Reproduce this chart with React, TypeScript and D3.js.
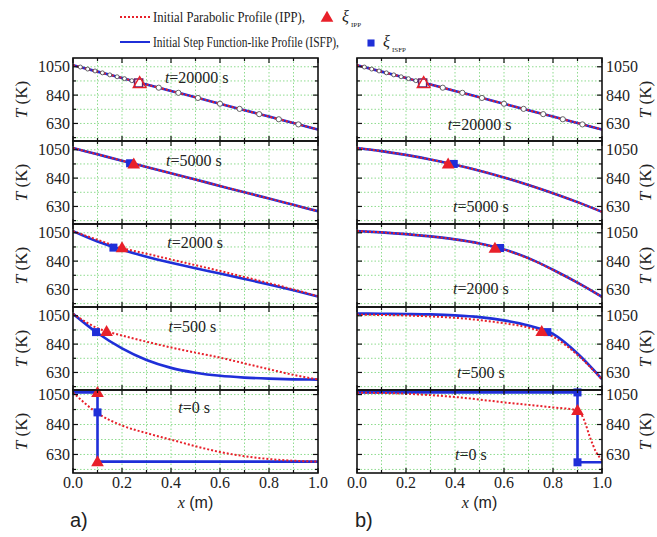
import React from "react";
import * as d3 from "d3";

// shared x grid (m)
const xs = [0, 0.1, 0.2, 0.3, 0.4, 0.5, 0.6, 0.7, 0.8, 0.9, 1.0];

// t = 20000 s (same in a and b)
const ipp20000 = [1062, 1014, 967, 919, 871, 824, 776, 728, 681, 633, 585];
const isfp20000 = [1062, 1014, 967, 919, 871, 824, 776, 728, 681, 633, 585];
const circleX = [0.35, 0.43, 0.51, 0.6, 0.68, 0.76, 0.84, 0.92];
const circleT = [895, 857, 819, 776, 738, 699, 661, 623];
const smallX = [0.03, 0.06, 0.09, 0.12, 0.15, 0.18, 0.21, 0.24];
const smallT = [1048, 1033, 1019, 1005, 990, 976, 962, 947];

// t = 5000 s
const aIpp5000 = [1063, 1016, 969, 923, 876, 829, 782, 735, 689, 642, 595];
const aIsfp5000 = [1063, 1016, 969, 923, 876, 829, 782, 735, 689, 642, 595];
const bIpp5000 = [1063, 1040, 1012, 978, 939, 895, 845, 789, 728, 662, 590];
const bIsfp5000 = [1063, 1040, 1012, 978, 939, 895, 845, 789, 728, 662, 590];

// t = 2000 s
const aIpp2000 = [1062, 998, 937, 895, 852, 810, 767, 722, 677, 630, 580];
const aIsfp2000 = [1062, 985, 925, 873, 828, 787, 748, 708, 667, 624, 578];
const bIpp2000 = [1063, 1053, 1040, 1023, 1001, 970, 925, 860, 775, 680, 575];
const bIsfp2000 = [1063, 1053, 1040, 1023, 1001, 971, 927, 862, 776, 680, 575];

// t = 500 s
const aIpp500 = [1065, 958, 904, 858, 815, 777, 740, 697, 654, 612, 578];
const aIsfp500 = [1065, 922, 808, 722, 664, 628, 605, 592, 584, 579, 577];
const bIpp500 = [1058, 1056, 1052, 1045, 1035, 1018, 995, 962, 895, 760, 578];
const bIsfp500 = [1066, 1065, 1063, 1060, 1053, 1040, 1016, 978, 915, 770, 580];

// t = 0 s
const aIpp0 = [1065, 920, 833, 780, 734, 688, 647, 618, 598, 586, 580];
const aStepX = [0, 0.1, 0.1, 1.0];
const aStepT = [1065, 1065, 580, 580];
const bIppX0 = [0, 0.1, 0.2, 0.3, 0.4, 0.5, 0.6, 0.7, 0.8, 0.9, 0.925, 0.95, 0.975, 1.0];
const bIpp0 = [1063, 1061, 1056, 1046, 1033, 1015, 995, 978, 960, 939, 880, 755, 650, 590];
const bStepX = [0, 0.9, 0.9, 1.0];
const bStepT = [1065, 1065, 575, 575];

const times = ["20000", "5000", "2000", "500", "0"];
const xTickLabels = ["0.0", "0.2", "0.4", "0.6", "0.8", "1.0"];
const yTickLabels = [630, 840, 1050];

const RED = "#e8202a";
const BLUE = "#1f2fd8";
const GRID = "#8fdc8f";
const SERIF = "Liberation Serif";
const SANS = "Liberation Sans";

type Series = { x: number[]; t: number[]; step?: boolean };
type Mark = [number, number];
type Panel = {
  ipp: Series;
  isfp: Series;
  tri: Mark[];
  sq: Mark[];
  open?: boolean;
  label: Mark;
};

const leftPanels: Panel[] = [
  { ipp: { x: xs, t: ipp20000 }, isfp: { x: xs, t: isfp20000 }, tri: [[0.272, 930]], sq: [[0.268, 930]], open: true, label: [0.375, 930] },
  { ipp: { x: xs, t: aIpp5000 }, isfp: { x: xs, t: aIsfp5000 }, tri: [[0.248, 945]], sq: [[0.233, 950]], label: [0.38, 930] },
  { ipp: { x: xs, t: aIpp2000 }, isfp: { x: xs, t: aIsfp2000 }, tri: [[0.2, 940]], sq: [[0.165, 940]], label: [0.385, 937] },
  { ipp: { x: xs, t: aIpp500 }, isfp: { x: xs, t: aIsfp500 }, tri: [[0.137, 935]], sq: [[0.094, 929]], label: [0.39, 930] },
  { ipp: { x: xs, t: aIpp0 }, isfp: { x: aStepX, t: aStepT, step: true }, tri: [[0.1, 1065], [0.1, 580]], sq: [[0.1, 925]], label: [0.43, 921] },
];

const rightPanels: Panel[] = [
  { ipp: { x: xs, t: ipp20000 }, isfp: { x: xs, t: isfp20000 }, tri: [[0.272, 930]], sq: [[0.268, 930]], open: true, label: [0.37, 582] },
  { ipp: { x: xs, t: bIpp5000 }, isfp: { x: xs, t: bIsfp5000 }, tri: [[0.372, 945]], sq: [[0.395, 945]], label: [0.392, 589] },
  { ipp: { x: xs, t: bIpp2000 }, isfp: { x: xs, t: bIsfp2000 }, tri: [[0.563, 937]], sq: [[0.584, 937]], label: [0.392, 596] },
  { ipp: { x: xs, t: bIpp500 }, isfp: { x: xs, t: bIsfp500 }, tri: [[0.754, 935]], sq: [[0.777, 929]], label: [0.408, 589] },
  { ipp: { x: bIppX0, t: bIpp0 }, isfp: { x: bStepX, t: bStepT, step: true }, tri: [[0.9, 939]], sq: [[0.9, 1065], [0.9, 575]], label: [0.4, 591] },
];

const top0 = 58;
const ph = 83;

function PanelView({ p, i, x0, x1, side, id }: { p: Panel; i: number; x0: number; x1: number; side: string; id: string }) {
  const top = top0 + i * ph;
  const bottom = top + ph;
  const x = d3.scaleLinear().domain([0, 1]).range([x0, x1]);
  const y = d3.scaleLinear().domain(i === 4 ? [500, 1082] : [500, 1115]).range([bottom, top]);
  const mk = (s: Series) =>
    d3
      .line<number>()
      .x((_, k) => x(s.x[k]))
      .y((d) => y(d))
      .curve(s.step ? d3.curveLinear : d3.curveMonotoneX)(s.t) || "";
  const xt = x.ticks(10);
  const yt = d3.range(525, 1051, 105);
  const tri = d3.symbol(d3.symbolTriangle, 70)() || "";
  const sq = d3.symbol(d3.symbolSquare, 64)() || "";
  return (
    <g>
      <clipPath id={id}>
        <rect x={x0} y={top} width={x1 - x0} height={ph} />
      </clipPath>
      <g stroke={GRID} strokeWidth={1} strokeDasharray="1.5,2">
        {xt.slice(1, -1).map((v) => (
          <line key={"gx" + v} x1={x(v)} x2={x(v)} y1={top} y2={bottom} />
        ))}
        {yt.map((v) => (
          <line key={"gy" + v} x1={x0} x2={x1} y1={y(v)} y2={y(v)} />
        ))}
      </g>
      <g clipPath={`url(#${id})`} fill="none">
        <path d={mk(p.isfp)} stroke={BLUE} strokeWidth={2.6} />
        <path d={mk(p.ipp)} stroke={RED} strokeWidth={2} strokeDasharray="2,2" />
        {p.open &&
          smallX.map((v, k) => (
            <circle key={"s" + k} cx={x(v)} cy={y(smallT[k])} r={2} fill="#fff" stroke="#444" strokeWidth={0.8} />
          ))}
        {p.open &&
          circleX.map((v, k) => (
            <circle key={"c" + k} cx={x(v)} cy={y(circleT[k])} r={2.6} fill="#fff" stroke="#555" strokeWidth={0.9} />
          ))}
      </g>
      {p.sq.map((m, k) => (
        <path key={"q" + k} d={sq} transform={`translate(${x(m[0])},${y(m[1])})`}
          fill={p.open ? "#fff" : BLUE} stroke={p.open ? "#6a1f6a" : BLUE} strokeWidth={p.open ? 1.6 : 0} />
      ))}
      {p.tri.map((m, k) => (
        <path key={"t" + k} d={tri} transform={`translate(${x(m[0])},${y(m[1]) + 1})`}
          fill={p.open ? "none" : RED} stroke={p.open ? RED : "none"} strokeWidth={1.4} />
      ))}
      <rect x={x0} y={top} width={x1 - x0} height={ph} fill="none" stroke="#111" strokeWidth={1.6} />
      <g stroke="#111" strokeWidth={1.2}>
        {xt.map((v, k) => {
          const len = k % 2 === 0 ? 5 : 3;
          return (
            <g key={"tx" + v}>
              <line x1={x(v)} x2={x(v)} y1={bottom} y2={bottom - len} />
              <line x1={x(v)} x2={x(v)} y1={top} y2={top + len} />
            </g>
          );
        })}
        {yt.map((v) => {
          const len = yTickLabels.includes(v) ? 5 : 3;
          return (
            <g key={"ty" + v}>
              <line x1={x0} x2={x0 + len} y1={y(v)} y2={y(v)} />
              <line x1={x1} x2={x1 - len} y1={y(v)} y2={y(v)} />
            </g>
          );
        })}
      </g>
      <g fontFamily={SERIF} fontSize={16} fill="#222">
        {yTickLabels.map((v) => (
          <text key={"yl" + v} x={side === "left" ? x0 - 3 : x1 + 4} y={y(v)} dy="0.35em"
            textAnchor={side === "left" ? "end" : "start"}>
            {v}
          </text>
        ))}
      </g>
      <text x={x(p.label[0])} y={y(p.label[1])} fontFamily={SERIF} fontSize={16} fill="#222">
        <tspan fontStyle="italic">t</tspan>={times[i]} s
      </text>
      <text transform={`translate(${side === "left" ? 27 : 651},${top + ph / 2}) rotate(-90)`}
        textAnchor="middle" fontFamily={SERIF} fontSize={17} fill="#222">
        <tspan fontStyle="italic">T</tspan> (K)
      </text>
      {i === 4 && (
        <g>
          <g fontFamily={SERIF} fontSize={16} fill="#222">
            {xTickLabels.map((s, k) => (
              <text key={"xl" + k} x={x(k * 0.2)} y={488} textAnchor="middle">{s}</text>
            ))}
          </g>
          <text x={x(0.5)} y={508} textAnchor="middle" fontSize={16} fill="#222">
            <tspan fontFamily={SERIF} fontStyle="italic">x</tspan>
            <tspan fontFamily={SANS}> (m)</tspan>
          </text>
        </g>
      )}
    </g>
  );
}

export default function App() {
  const tri = d3.symbol(d3.symbolTriangle, 70)() || "";
  const sq = d3.symbol(d3.symbolSquare, 50)() || "";
  return (
    <svg width={657} height={537} fontFamily={SERIF} style={{ position: "absolute", left: 0, top: 0, background: "#fff" }}>
      <rect width={657} height={537} fill="#fff" />
      {/* legend */}
      <g fontFamily={SERIF} fontSize={14} fill="#222">
        <line x1={120} x2={150} y1={17} y2={17} stroke={RED} strokeWidth={2} strokeDasharray="2,2" />
        <text x={153} y={22} textLength={152} lengthAdjust="spacingAndGlyphs">Initial Parabolic Profile (IPP),</text>
        <path d={tri} transform="translate(327,18)" fill={RED} />
        <text x={342} y={22} fontStyle="italic" fontSize={16}>ξ</text>
        <text x={351} y={27} fontSize={7}>IPP</text>
        <line x1={120} x2={150} y1={42} y2={42} stroke={BLUE} strokeWidth={2} />
        <text x={153} y={47} textLength={186} lengthAdjust="spacingAndGlyphs">Initial Step Function-like Profile (ISFP),</text>
        <path d={sq} transform="translate(371,43)" fill={BLUE} />
        <text x={383} y={47} fontStyle="italic" fontSize={16}>ξ</text>
        <text x={392} y={52} fontSize={7}>ISFP</text>
      </g>
      {leftPanels.map((p, i) => (
        <PanelView key={"a" + i} p={p} i={i} x0={73} x1={318} side="left" id={"ca" + i} />
      ))}
      {rightPanels.map((p, i) => (
        <PanelView key={"b" + i} p={p} i={i} x0={357} x1={602} side="right" id={"cb" + i} />
      ))}
      <text x={70} y={527} fontFamily={SANS} fontSize={20} fill="#222">a)</text>
      <text x={355} y={527} fontFamily={SANS} fontSize={20} fill="#222">b)</text>
    </svg>
  );
}
